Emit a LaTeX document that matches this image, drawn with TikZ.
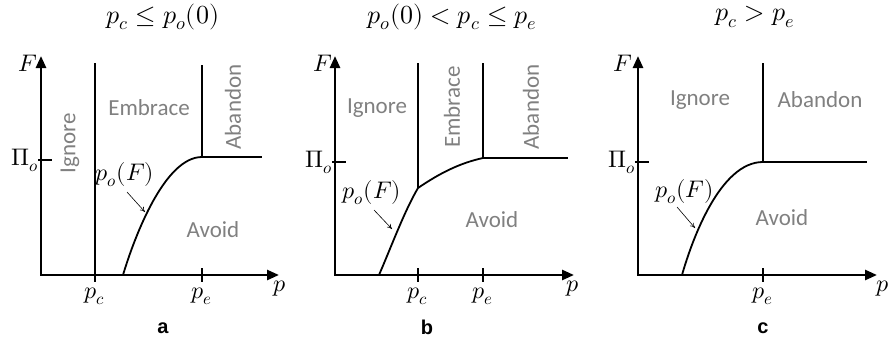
\documentclass[tikz,border=0pt]{standalone}
\usepackage{fontspec}
\usepackage{unicode-math}
\setmathfont{Latin Modern Math}
\newfontfamily\regionfont{Carlito}
\newfontfamily\tagfont{Liberation Sans}
\usetikzlibrary{arrows.meta}
\tikzset{
  axis/.style={line width=2.6pt,line cap=rect,-{Triangle[length=12pt,width=10pt]}},
  bound/.style={line width=1.8pt,line join=round},
  tickmark/.style={line width=1.8pt},
  region/.style={text=gray,font=\regionfont\fontsize{23}{27}\selectfont,inner sep=0pt},
  mlabel/.style={font=\fontsize{24}{28}\selectfont,inner sep=0pt},
  mtitle/.style={font=\fontsize{26}{30}\selectfont,inner sep=0pt},
  tag/.style={font=\tagfont\bfseries\fontsize{20}{24}\selectfont,inner sep=0pt},
  pointer/.style={line width=0.6pt,-{To[length=5pt,width=5pt]}}
}
\begin{document}
\begin{tikzpicture}[x=1pt,y=-1pt]
\useasboundingbox (0,0) rectangle (891,341);

% panel a
\coordinate (aO) at (41,275);
\coordinate (aX) at (279,275);
\coordinate (aY) at (41,56);
\draw[axis] (aO) -- (aY);
\draw[axis] (aO) -- (aX);
\draw[tickmark] (38,160) -- (52,160);
\coordinate (apcTop) at (95,63);
\coordinate (apcBot) at (95,282);
\draw[bound] (apcTop) -- (apcBot);
\coordinate (apeTop) at (202,65);
\coordinate (aJ) at (202,157);
\coordinate (aEnd) at (262,157);
\coordinate (aS) at (123,275);
\draw[tickmark] (202,268) -- (202,282);
\draw[bound] (apeTop) -- (aJ) -- (aEnd);
\draw[bound] (aS) .. controls (135,235) and (165,157) .. (aJ);
\node[mtitle] (aT) at (163,17) {$p_c \le p_o(0)$};
\node[mlabel] (aF) at (28,63) {$F$};
\node[mlabel,anchor=east] (aPi) at (39,160) {$\Pi_o$};
\node[mlabel] (apcL) at (95,296) {$p_c$};
\node[mlabel] (apeL) at (202,296) {$p_e$};
\node[mlabel] (apL) at (280,289) {$p$};
\node[region,rotate=90] (aIg) at (70,143) {Ignore};
\node[region] (aEm) at (149,108) {Embrace};
\node[region,rotate=90] (aAb) at (233,107) {Abandon};
\node[region] (aAv) at (213,230) {Avoid};
\node[mlabel] (apoF) at (125,175) {$p_o(F)$};
\coordinate (aPs) at (127,192);
\coordinate (aPe) at (145,212);
\draw[pointer] (aPs) -- (aPe);
\node[tag] (aTag) at (163,328) {a};

% panel b
\coordinate (bO) at (335,275);
\coordinate (bX) at (574,275);
\coordinate (bY) at (335,56);
\draw[axis] (bO) -- (bY);
\draw[axis] (bO) -- (bX);
\draw[tickmark] (332,162) -- (346,162);
\coordinate (bpcTop) at (418,63);
\coordinate (bJ1) at (418,188);
\coordinate (bpeTop) at (483,63);
\coordinate (bJ2) at (483,158);
\coordinate (bEnd) at (568,158);
\coordinate (bS) at (379,275);
\draw[tickmark] (418,268) -- (418,282);
\draw[tickmark] (483,268) -- (483,282);
\draw[bound] (bpcTop) -- (bJ1);
\draw[bound] (bpeTop) -- (bJ2) -- (bEnd);
\draw[bound] (bS) .. controls (392,245) and (404,212) .. (bJ1)
  .. controls (440,173) and (460,163) .. (bJ2);
\node[mtitle] (bT) at (452,17) {$p_o(0) < p_c \le p_e$};
\node[mlabel] (bF) at (323,63) {$F$};
\node[mlabel,anchor=east] (bPi) at (333,162) {$\Pi_o$};
\node[mlabel] (bpcL) at (418,296) {$p_c$};
\node[mlabel] (bpeL) at (483,296) {$p_e$};
\node[mlabel] (bpL) at (573,289) {$p$};
\node[region] (bIg) at (377,108) {Ignore};
\node[region,rotate=90] (bEm) at (452,107) {Embrace};
\node[region,rotate=90] (bAb) at (531,107) {Abandon};
\node[region] (bAv) at (492,220) {Avoid};
\node[mlabel] (bpoF) at (372,193) {$p_o(F)$};
\coordinate (bPs) at (374,210);
\coordinate (bPe) at (392,229);
\draw[pointer] (bPs) -- (bPe);
\node[tag] (bTag) at (427,327) {b};

% panel c
\coordinate (cO) at (638,275);
\coordinate (cX) at (877,275);
\coordinate (cY) at (638,56);
\draw[axis] (cO) -- (cY);
\draw[axis] (cO) -- (cX);
\draw[tickmark] (635,162) -- (649,162);
\coordinate (cpeTop) at (763,63);
\coordinate (cJ) at (763,162);
\coordinate (cEnd) at (867,162);
\coordinate (cS) at (682,275);
\draw[tickmark] (763,268) -- (763,282);
\draw[bound] (cpeTop) -- (cJ) -- (cEnd);
\draw[bound] (cS) .. controls (692,240) and (720,162) .. (cJ);
\node[mtitle] (cT) at (755,17) {$p_c > p_e$};
\node[mlabel] (cF) at (623,63) {$F$};
\node[mlabel,anchor=east] (cPi) at (636,162) {$\Pi_o$};
\node[mlabel] (cpeL) at (763,296) {$p_e$};
\node[mlabel] (cpL) at (883,289) {$p$};
\node[region] (cIg) at (700,100) {Ignore};
\node[region] (cAb) at (820,100) {Abandon};
\node[region] (cAv) at (782,218) {Avoid};
\node[mlabel,anchor=east] (cpoF) at (714,192) {$p_o(F)$};
\coordinate (cPs) at (677,207);
\coordinate (cPe) at (695,228);
\draw[pointer] (cPs) -- (cPe);
\node[tag] (cTag) at (763,328) {c};
\end{tikzpicture}
\end{document}
